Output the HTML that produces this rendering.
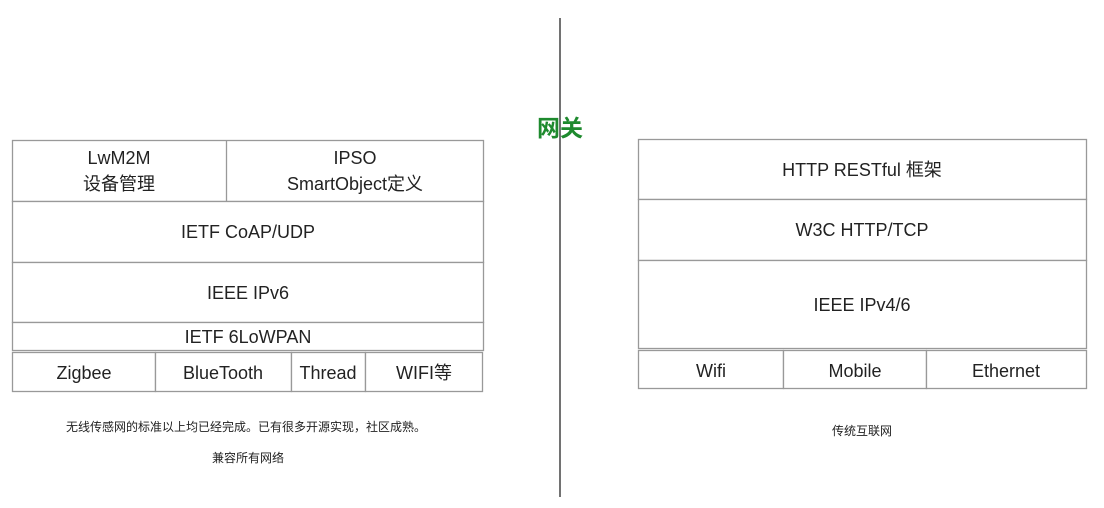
<!DOCTYPE html>
<html><head><meta charset="utf-8"><style>
html,body{margin:0;padding:0;background:#fff;width:1104px;height:508px;overflow:hidden}
svg text{font-family:"Liberation Sans","Noto Sans CJK SC",sans-serif;fill:#222}
</style></head><body>
<svg width="1104" height="508" viewBox="0 0 1104 508" xmlns="http://www.w3.org/2000/svg">
<g fill="#fff" stroke="#999" stroke-width="1.3">
<rect x="12.5" y="140.5" width="471" height="61"/>
<line x1="226.5" y1="140" x2="226.5" y2="201"/>
<rect x="12.5" y="201.5" width="471" height="61"/>
<rect x="12.5" y="262.5" width="471" height="60"/>
<rect x="12.5" y="322.5" width="471" height="28"/>
<rect x="12.5" y="352.5" width="143" height="39"/>
<rect x="155.5" y="352.5" width="136" height="39"/>
<rect x="291.5" y="352.5" width="74" height="39"/>
<rect x="365.5" y="352.5" width="117" height="39"/>

<rect x="638.5" y="139.5" width="448" height="60"/>
<rect x="638.5" y="199.5" width="448" height="61"/>
<rect x="638.5" y="260.5" width="448" height="88"/>
<rect x="638.5" y="350.5" width="145" height="38"/>
<rect x="783.5" y="350.5" width="143" height="38"/>
<rect x="926.5" y="350.5" width="160" height="38"/>
</g>
<line x1="560" y1="18" x2="560" y2="497" stroke="#444" stroke-width="1.5"/>
<g font-size="18" text-anchor="middle">
<text x="119" y="164">LwM2M</text>
<text x="119" y="190">设备管理</text>
<text x="355" y="164">IPSO</text>
<text x="355" y="190">SmartObject定义</text>
<text x="248" y="238">IETF CoAP/UDP</text>
<text x="248" y="299">IEEE IPv6</text>
<text x="248" y="343">IETF 6LoWPAN</text>
<text x="84" y="379">Zigbee</text>
<text x="223" y="379">BlueTooth</text>
<text x="328" y="379">Thread</text>
<text x="424" y="379">WIFI等</text>
<text x="862" y="176">HTTP RESTful 框架</text>
<text x="862" y="236">W3C HTTP/TCP</text>
<text x="862" y="311">IEEE IPv4/6</text>
<text x="711" y="377">Wifi</text>
<text x="855" y="377">Mobile</text>
<text x="1006" y="377">Ethernet</text>
</g>
<text x="560" y="136" font-size="23" font-weight="bold" text-anchor="middle" style="fill:#1e8a2e">网关</text>
<g font-size="12" text-anchor="middle">
<text x="246" y="431">无线传感网的标准以上均已经完成。已有很多开源实现，社区成熟。</text>
<text x="248" y="462">兼容所有网络</text>
<text x="862" y="435">传统互联网</text>
</g>
</svg>
</body></html>
